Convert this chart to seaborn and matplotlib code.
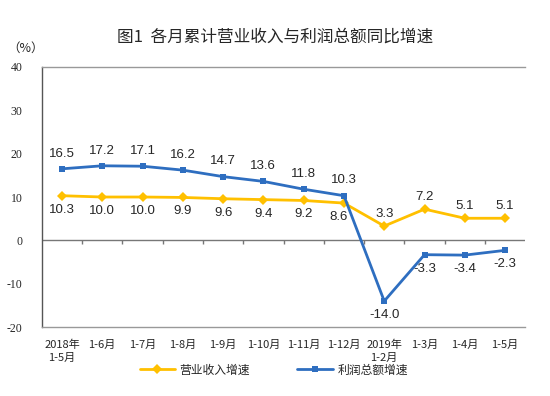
import numpy as np
import pandas as pd
import matplotlib
matplotlib.use("Agg")
import matplotlib.pyplot as plt
import seaborn as sns

# data
months = ["2018年\n1-5月", "1-6月", "1-7月", "1-8月", "1-9月", "1-10月",
          "1-11月", "1-12月", "2019年\n1-2月", "1-3月", "1-4月", "1-5月"]
revenue = [10.3, 10.0, 10.0, 9.9, 9.6, 9.4, 9.2, 8.6, 3.3, 7.2, 5.1, 5.1]
profit = [16.5, 17.2, 17.1, 16.2, 14.7, 13.6, 11.8, 10.3, -14.0, -3.3, -3.4, -2.3]
rev_name = "营业收入增速"
pro_name = "利润总额增速"

sns.set_style("white")
plt.rcParams["font.family"] = ["Noto Sans CJK SC", "DejaVu Sans"]

df = pd.DataFrame({"x": np.arange(len(months)), rev_name: revenue, pro_name: profit})

YEL = "#FFC000"
BLU = "#2E6EC0"

fig = plt.figure(figsize=(5.5, 3.96), dpi=100)
ax = fig.add_axes([0.076, 0.174, 0.879, 0.657])

sns.lineplot(data=df, x="x", y=rev_name, ax=ax, color=YEL, lw=2, marker="D",
             markersize=5, markeredgewidth=0, label=rev_name)
sns.lineplot(data=df, x="x", y=pro_name, ax=ax, color=BLU, lw=2, marker="s",
             markersize=5, markeredgewidth=0, label=pro_name)

n = len(months)
ax.set_xlim(-0.5, n - 0.5)
ax.set_ylim(-20, 40)
ax.set_yticks(range(-20, 41, 10))
ax.set_yticklabels([str(v) for v in range(-20, 41, 10)], family="Liberation Serif", fontsize=8.5)
ax.set_xticks(df["x"])
ax.set_xticklabels(months, fontsize=8, linespacing=1.3)
ax.tick_params(axis="x", length=0, pad=9)
ax.tick_params(axis="y", length=0, pad=14)
ax.set_xlabel("")
ax.set_ylabel("")

ax.spines["right"].set_visible(False)
ax.spines["left"].set_color("#555555")
ax.spines["top"].set_color("#999999")
ax.spines["bottom"].set_color("#999999")
for s in ["left", "top", "bottom"]:
    ax.spines[s].set_linewidth(1)

# zero line with category separators
ax.axhline(0, color="#777777", lw=1, zorder=1)
ax.vlines(np.arange(0.5, n - 1), -0.9, 0, color="#777777", lw=1)

lab = dict(ha="center", va="center", fontsize=9.5, family="Liberation Sans", textcoords="offset points")
for i, (r, p) in enumerate(zip(revenue, profit)):
    if i < 8:
        ax.annotate(f"{p:.1f}", (i, p), xytext=(0, 11), **lab)
        dx = -4 if i == 7 else 0
        ax.annotate(f"{r:.1f}", (i, r), xytext=(dx, -10), **lab)
    else:
        ax.annotate(f"{p:.1f}", (i, p), xytext=(0, -10), **lab)
        ax.annotate(f"{r:.1f}", (i, r), xytext=(0, 9), **lab)

fig.text(0.5, 0.905, "图1  各月累计营业收入与利润总额同比增速", ha="center", va="center", fontsize=12)
fig.text(0.046, 0.877, "（%）", ha="center", va="center", fontsize=9)

ax.legend(loc="center", bbox_to_anchor=(0.48, -0.165), ncol=2, frameon=False,
          fontsize=8.5, handlelength=3, columnspacing=4, handletextpad=0.4)

fig.savefig("out.png", dpi=100)
